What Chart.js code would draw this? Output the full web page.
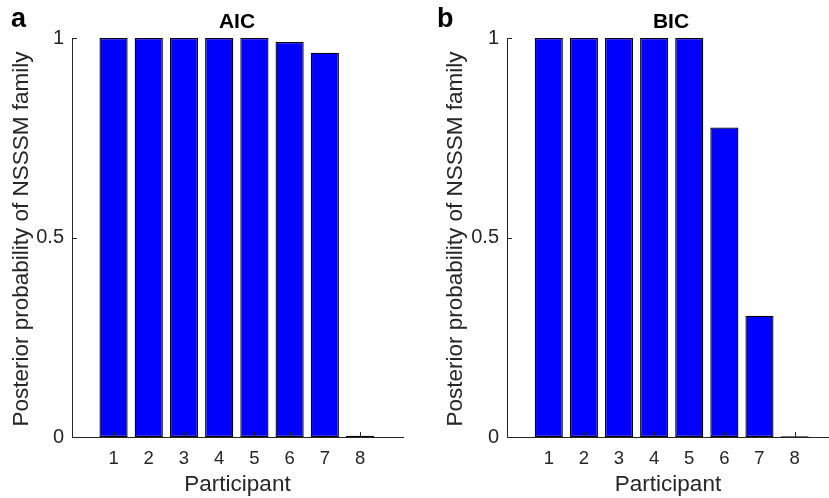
<!DOCTYPE html>
<html>
<head>
<meta charset="utf-8">
<script src="https://cdn.jsdelivr.net/npm/chart.js@4"></script>
<style>
  body { margin: 0; background: #fff; }
  #wrap { position: relative; width: 829px; height: 498px; overflow: hidden; }
  canvas { position: absolute; top: 0; }
</style>
</head>
<body>
<div id="wrap">
  <canvas id="chartA" width="420" height="498" style="left:0"></canvas>
  <canvas id="chartB" width="409" height="498" style="left:420px"></canvas>
</div>
<script>
const participants = [1, 2, 3, 4, 5, 6, 7, 8];
const aicProb = [1, 1, 1, 1, 1, 0.99, 0.963, 0.003];
const bicProb = [1, 1, 1, 1, 1, 0.776, 0.304, 0.002];
const yTicks = [0, 0.5, 1];
const yLabel = "Posterior probability of NSSSM family";

const FONT = "'Liberation Sans', Arial, Helvetica, sans-serif";
const AXIS = "#262626";

// matlab style: ticks point inwards, title over the plot area, panel letter, y label
const matlabBits = {
  id: "matlabBits",
  afterDatasetsDraw(chart, args, opts) {
    const ctx = chart.ctx;
    const x = chart.scales.x, y = chart.scales.y;
    const area = chart.chartArea;
    ctx.save();
    ctx.strokeStyle = AXIS;
    ctx.lineWidth = 1;
    ctx.beginPath();
    x.ticks.forEach((t) => {
      const px = Math.round(x.getPixelForValue(t.value)) + 0.5;
      ctx.moveTo(px, area.bottom);
      ctx.lineTo(px, area.bottom - 5);
    });
    y.ticks.forEach((t) => {
      const py = Math.round(y.getPixelForValue(t.value)) + 0.5;
      ctx.moveTo(area.left, py);
      ctx.lineTo(area.left + 5, py);
    });
    ctx.stroke();

    ctx.fillStyle = "#000";
    ctx.textBaseline = "alphabetic";
    ctx.textAlign = "center";
    ctx.font = "bold 21px " + FONT;
    ctx.fillText(opts.title, opts.titleX, 28);
    ctx.textAlign = "left";
    ctx.font = "bold 27px " + FONT;
    ctx.fillText(opts.letter, opts.letterX, 27);

    ctx.translate(opts.yLabelX, 239);
    ctx.rotate(-Math.PI / 2);
    ctx.textAlign = "center";
    ctx.textBaseline = "middle";
    ctx.fillStyle = AXIS;
    ctx.font = "22.5px " + FONT;
    ctx.fillText(yLabel, 0, 0);
    ctx.restore();
  },
};

function makePanel(id, values, title, letter, opt) {
  return new Chart(document.getElementById(id), {
    type: "bar",
    data: {
      datasets: [
        {
          data: participants.map((p, i) => ({ x: p, y: values[i] })),
          backgroundColor: "#0000FF",
          borderColor: "#000000",
          borderWidth: 1.3,
          borderSkipped: false,
          barPercentage: 0.8,
          categoryPercentage: 1,
        },
      ],
    },
    options: {
      responsive: false,
      animation: false,
      layout: { padding: { top: 38, right: opt.padRight, left: 0, bottom: 0 } },
      plugins: {
        legend: { display: false },
        tooltip: { enabled: false },
        matlabBits: { title: title, titleX: opt.titleX, letter: letter, letterX: opt.letterX, yLabelX: opt.yLabelX },
      },
      scales: {
        x: {
          type: "linear",
          offset: false,
          min: opt.xMin,
          max: opt.xMax,
          afterBuildTicks: (s) => { s.ticks = participants.map((v) => ({ value: v })); },
          afterFit: (s) => { s.height = 61; },
          grid: { display: false, drawTicks: false },
          border: { display: true, color: AXIS, width: 1 },
          ticks: { padding: 11, color: AXIS, font: { family: FONT, size: 18.5 }, maxRotation: 0 },
          title: { display: true, text: "Participant", color: AXIS, padding: 0, font: { family: FONT, size: 22.5 } },
        },
        y: {
          min: 0,
          max: 1,
          afterBuildTicks: (s) => { s.ticks = yTicks.map((v) => ({ value: v })); },
          afterFit: (s) => { s.width = opt.yWidth; },
          grid: { display: false, drawTicks: false },
          border: { display: true, color: AXIS, width: 1 },
          ticks: { padding: 8, color: AXIS, font: { family: FONT, size: 20 }, callback: (v) => String(v) },
          title: { display: false },
        },
      },
    },
    plugins: [matlabBits],
  });
}

makePanel("chartA", aicProb, "AIC", "a", {
  padRight: 17, xMin: -0.18, xMax: 9.22, yWidth: 72, titleX: 237, letterX: 11, yLabelX: 22,
});
makePanel("chartB", bicProb, "BIC", "b", {
  padRight: 0, xMin: -0.19, xMax: 8.98, yWidth: 87, titleX: 251, letterX: 17, yLabelX: 36,
});
</script>
</body>
</html>
